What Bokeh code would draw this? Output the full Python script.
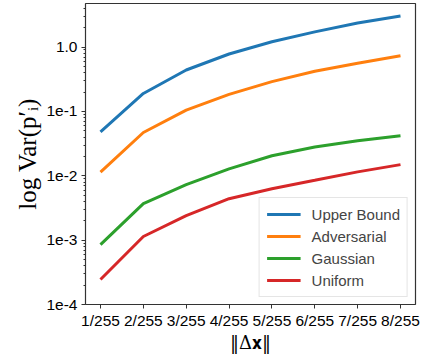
from bokeh.plotting import figure
from bokeh.models import FixedTicker, CustomJSTickFormatter, Legend, LegendItem, Range1d
from bokeh.embed import file_html
from bokeh.resources import INLINE

x_pos = [1, 2, 3, 4, 5, 6, 7, 8]
x_labels = ["1/255", "2/255", "3/255", "4/255", "5/255", "6/255", "7/255", "8/255"]
upper_bound = [0.048, 0.19, 0.44, 0.78, 1.21, 1.72, 2.37, 3.03]
adversarial = [0.0114, 0.047, 0.105, 0.184, 0.29, 0.42, 0.56, 0.73]
gaussian = [0.00085, 0.0037, 0.0073, 0.0128, 0.0205, 0.028, 0.035, 0.042]
uniform = [0.000245, 0.00114, 0.0024, 0.0044, 0.0063, 0.0085, 0.0115, 0.0149]
series_names = ["Upper Bound", "Adversarial", "Gaussian", "Uniform"]
series_colors = ["#1f77b4", "#ff7f0e", "#2ca02c", "#d62728"]
y_ticks = [1e-4, 1e-3, 1e-2, 1e-1, 1.0]

p = figure(width=422, height=355, y_axis_type="log", output_backend="svg",
           toolbar_location=None, min_border_left=85, min_border_right=7,
           min_border_top=3, min_border_bottom=50)
p.x_range = Range1d(0.65, 8.35)
p.y_range = Range1d(1e-4, 4.75)

items = []
for name, col, ys in zip(series_names, series_colors, [upper_bound, adversarial, gaussian, uniform]):
    r = p.line(x_pos, ys, line_color=col, line_width=3)
    items.append(LegendItem(label=name, renderers=[r]))

p.xgrid.visible = False
p.ygrid.visible = False
p.outline_line_color = "#333333"
p.outline_line_width = 1.2

minor = []
for d in [-4, -3, -2, -1, 0]:
    for m in range(2, 10):
        minor.append(m * 10 ** d)
p.yaxis.ticker = FixedTicker(ticks=y_ticks, minor_ticks=minor)
p.yaxis.formatter = CustomJSTickFormatter(code="""
const e = Math.round(Math.log10(tick));
return e == 0 ? "1.0" : "1e" + e;
""")
p.xaxis.ticker = FixedTicker(ticks=x_pos, minor_ticks=[])
p.xaxis.major_label_overrides = {x: l for x, l in zip(x_pos, x_labels)}

for ax in [p.xaxis[0], p.yaxis[0]]:
    ax.axis_line_color = None
    ax.major_tick_line_color = "#333333"
    ax.minor_tick_line_color = "#333333"
    ax.major_tick_out = 4
    ax.major_tick_in = 0
    ax.minor_tick_out = 2
    ax.minor_tick_in = 0
    ax.major_label_text_font = "Liberation Sans"
    ax.major_label_text_font_size = "15.5px"
    ax.major_label_text_color = "black"
    ax.axis_label_text_font_style = "normal"
    ax.axis_label_text_color = "black"

p.xaxis.axis_label_text_font = "DejaVu Serif"
p.yaxis.axis_label_text_font = "Liberation Serif"
p.xaxis.axis_label_text_font_size = "18px"
p.yaxis.axis_label_text_font_size = "25px"
p.xaxis.axis_label = "‖Δ𝐱‖"
p.yaxis.axis_label = "log Var(p′ᵢ)"
p.xaxis.major_label_standoff = 3
p.yaxis.major_label_standoff = 4
p.xaxis.axis_label_standoff = 0
p.yaxis.axis_label_standoff = 2

legend = Legend(items=items, location="bottom_right")
legend.label_text_font = "Liberation Sans"
legend.label_text_font_size = "15px"
legend.glyph_width = 34
legend.glyph_height = 18
legend.label_height = 18
legend.spacing = 4
legend.label_standoff = 11
legend.padding = 7
legend.margin = 7
legend.border_line_color = "#cccccc"
legend.border_line_width = 1
legend.background_fill_alpha = 0.9
p.add_layout(legend)

open("out.html", "w").write(file_html(p, INLINE))
